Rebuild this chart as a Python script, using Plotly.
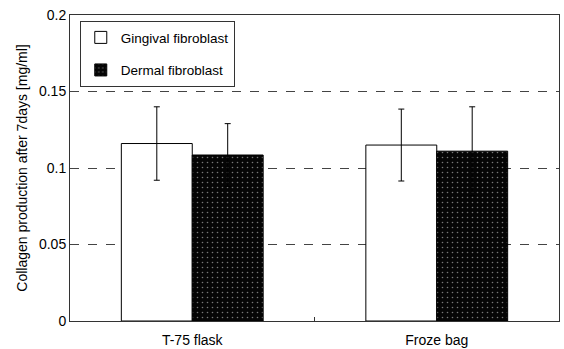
import plotly.graph_objects as go

categories = ["T-75 flask", "Froze bag"]
gingival = [0.116, 0.115]
gingival_err = [0.024, 0.0235]
dermal = [0.1085, 0.111]
dermal_err = [0.0205, 0.029]
yticks = [0, 0.05, 0.1, 0.15, 0.2]
yticklabels = ["0", "0.05", "0.1", "0.15", "0.2"]

FONT = "Liberation Sans, Arial, sans-serif"

fig = go.Figure()
fig.add_trace(go.Bar(
    name="Gingival fibroblast", x=categories, y=gingival,
    marker=dict(color="white", line=dict(color="black", width=1)),
    error_y=dict(type="data", array=gingival_err, color="black", thickness=1, width=3),
    legendgroup="g",
))
fig.add_trace(go.Bar(
    name="Dermal fibroblast", x=categories, y=dermal,
    marker=dict(color="#050505", line=dict(color="black", width=1),
                pattern=dict(shape=".", bgcolor="#050505", fgcolor="#777777",
                             size=5, solidity=0.08, fillmode="replace")),
    error_y=dict(type="data", array=dermal_err, color="black", thickness=1, width=3),
    legendgroup="d",
))

fig.update_layout(
    width=564, height=349,
    margin=dict(l=70, r=5, t=15, b=28, autoexpand=False),
    paper_bgcolor="white", plot_bgcolor="white",
    font=dict(family=FONT, size=14, color="black"),
    barmode="group", bargap=0.42, bargroupgap=0,
    showlegend=True,
    legend=dict(x=0.02, y=0.98, xanchor="left", yanchor="top",
                bordercolor="#333", borderwidth=1, bgcolor="white",
                font=dict(family=FONT, size=13.5, color="black"),
                tracegroupgap=12, traceorder="grouped", itemwidth=30),
)
fig.update_xaxes(
    showline=True, linecolor="#333", linewidth=1, mirror=True,
    showgrid=False, ticks="inside", tickson="boundaries", ticklen=4,
    tickcolor="#333", tickfont=dict(size=14), ticklabelstandoff=6,
    automargin=False,
)
fig.update_yaxes(
    range=[0, 0.2], tickvals=yticks, ticktext=yticklabels,
    showline=True, linecolor="#333", linewidth=1, mirror=True,
    showgrid=True, gridcolor="#444", griddash="dash", gridwidth=1,
    zeroline=False, ticks="", tickfont=dict(size=14),
    title=dict(text="Collagen production after 7days [mg/ml]",
               font=dict(size=14), standoff=8),
    automargin=False,
)

fig.write_html("out.html")
